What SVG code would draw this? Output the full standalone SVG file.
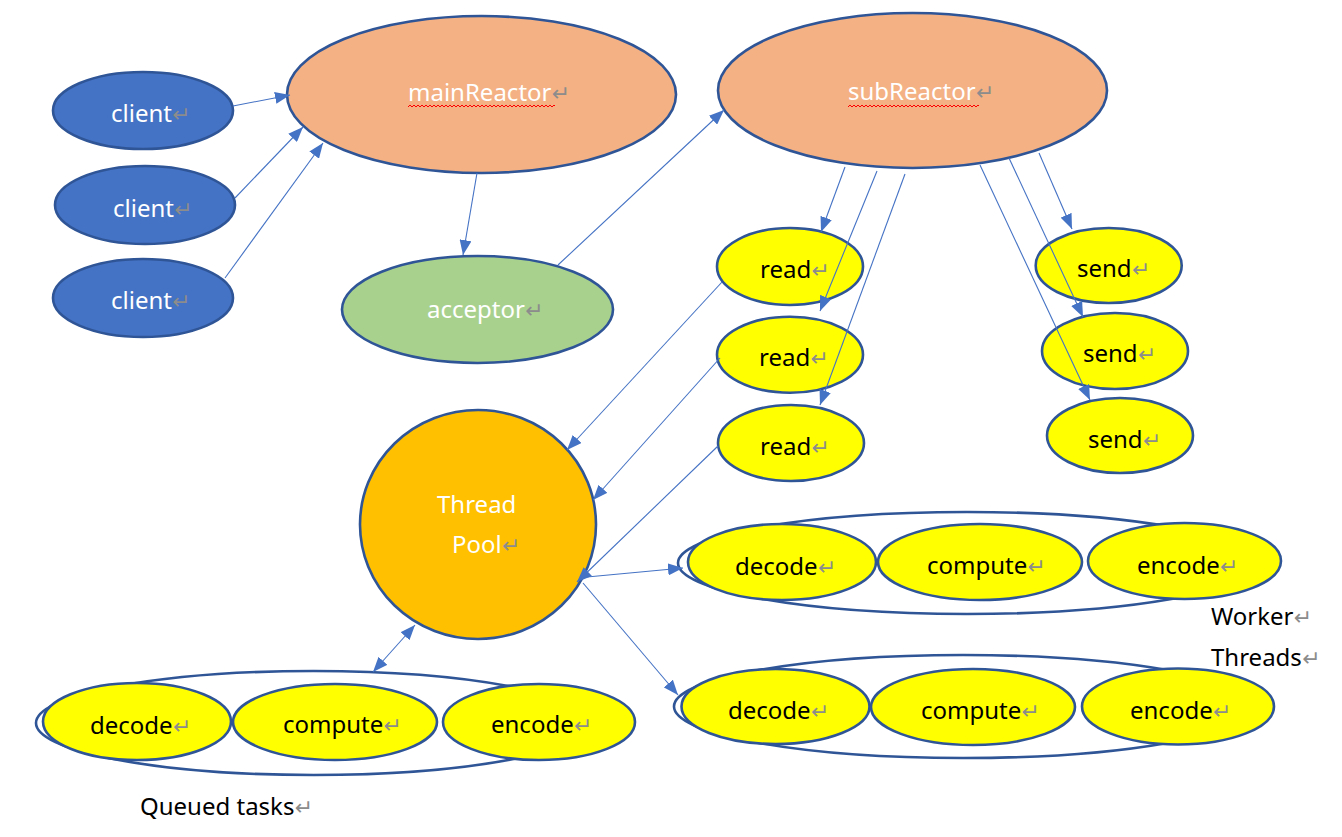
<svg xmlns="http://www.w3.org/2000/svg" width="1342" height="837" viewBox="0 0 1342 837">
<defs>
<style>
.n{stroke:#2F5597;stroke-width:2.6}
.blue{fill:#4472C4}
.orange{fill:#F4B183}
.green{fill:#A9D18E}
.gold{fill:#FFC000}
.yel{fill:#FFFF00}
.ring{fill:none}
text{font-family:"Noto Sans","Liberation Sans",sans-serif;font-size:24px}
.w{fill:#FFFFFF}
.k{fill:#000000}
.rt{font-family:"DejaVu Sans",sans-serif;font-size:22px;fill:#8C8C8C}
.c line{stroke:#4472C4;stroke-width:1.1;fill:none}
.a{marker-end:url(#ah)}
.d{marker-end:url(#ah);marker-start:url(#ah)}
</style>
<marker id="ah" markerUnits="userSpaceOnUse" markerWidth="16" markerHeight="12" viewBox="0 0 16 12" refX="15" refY="6" orient="auto-start-reverse">
<path d="M0,0 L15,6 L0,12 z" fill="#4472C4"/>
</marker>
<pattern id="wave" width="4" height="4" patternUnits="userSpaceOnUse">
<path d="M0,3 L2,1 L4,3" stroke="#FF0000" stroke-width="1" fill="none"/>
</pattern>
</defs>
<rect width="1342" height="837" fill="#FFFFFF"/>

<g id="client1"><ellipse class="n blue" cx="143" cy="110.5" rx="90" ry="38.5"/><text class="w" x="111" y="122">client<tspan class="rt">↵</tspan></text></g>
<g id="client2"><ellipse class="n blue" cx="145" cy="205" rx="90" ry="39"/><text class="w" x="113" y="217">client<tspan class="rt">↵</tspan></text></g>
<g id="client3"><ellipse class="n blue" cx="143" cy="298" rx="90" ry="39"/><text class="w" x="111" y="309">client<tspan class="rt">↵</tspan></text></g>

<g id="mainReactor"><ellipse class="n orange" cx="481.5" cy="94.5" rx="194.5" ry="78.5"/><text class="w" x="408" y="101">mainReactor<tspan class="rt">↵</tspan></text><rect x="408" y="104" width="147" height="4" fill="url(#wave)"/></g>
<g id="subReactor"><ellipse class="n orange" cx="912.5" cy="90.5" rx="194.5" ry="77.5"/><text class="w" x="848" y="100">subReactor<tspan class="rt">↵</tspan></text><rect x="848" y="103" width="131" height="4" fill="url(#wave)"/></g>

<g id="acceptor"><ellipse class="n green" cx="477.5" cy="309.5" rx="135.5" ry="53.5"/><text class="w" x="427" y="318">acceptor<tspan class="rt">↵</tspan></text></g>

<g id="read1"><ellipse class="n yel" cx="790" cy="266.5" rx="73" ry="38.5"/><text class="k" x="760" y="278">read<tspan class="rt">↵</tspan></text></g>
<g id="read2"><ellipse class="n yel" cx="790" cy="354.7" rx="73" ry="38"/><text class="k" x="759" y="366">read<tspan class="rt">↵</tspan></text></g>
<g id="read3"><ellipse class="n yel" cx="791" cy="443" rx="73" ry="38"/><text class="k" x="760" y="455">read<tspan class="rt">↵</tspan></text></g>

<g id="send1"><ellipse class="n yel" cx="1108.7" cy="265.5" rx="73" ry="37.5"/><text class="k" x="1077" y="277">send<tspan class="rt">↵</tspan></text></g>
<g id="send2"><ellipse class="n yel" cx="1115" cy="351" rx="73" ry="38"/><text class="k" x="1083" y="362">send<tspan class="rt">↵</tspan></text></g>
<g id="send3"><ellipse class="n yel" cx="1120" cy="435.5" rx="73" ry="37.5"/><text class="k" x="1088" y="448">send<tspan class="rt">↵</tspan></text></g>

<g id="threadPool"><ellipse class="n gold" cx="478" cy="524.5" rx="118" ry="114.5"/><text class="w" x="437" y="513">Thread</text><text class="w" x="452" y="553">Pool<tspan class="rt">↵</tspan></text></g>

<g id="workerRow1">
<ellipse class="n ring" cx="967" cy="563" rx="289" ry="51"/>
<ellipse class="n yel" cx="782" cy="562" rx="94" ry="38"/>
<ellipse class="n yel" cx="980" cy="562" rx="102" ry="38"/>
<ellipse class="n yel" cx="1184.5" cy="561" rx="96.5" ry="38"/>
<text class="k" x="735" y="575">decode<tspan class="rt">↵</tspan></text>
<text class="k" x="927" y="574">compute<tspan class="rt">↵</tspan></text>
<text class="k" x="1137" y="574">encode<tspan class="rt">↵</tspan></text>
</g>

<g id="workerRow2">
<ellipse class="n ring" cx="963" cy="706.5" rx="289" ry="51.5"/>
<ellipse class="n yel" cx="775.5" cy="706.5" rx="94" ry="37.5"/>
<ellipse class="n yel" cx="973" cy="707" rx="102" ry="38"/>
<ellipse class="n yel" cx="1178" cy="706.5" rx="96" ry="38"/>
<text class="k" x="728" y="719">decode<tspan class="rt">↵</tspan></text>
<text class="k" x="921" y="719">compute<tspan class="rt">↵</tspan></text>
<text class="k" x="1130" y="719">encode<tspan class="rt">↵</tspan></text>
</g>

<g id="queuedTasks">
<ellipse class="n ring" cx="313.5" cy="723" rx="277.5" ry="52"/>
<ellipse class="n yel" cx="137" cy="721.5" rx="94" ry="38.5"/>
<ellipse class="n yel" cx="335" cy="722" rx="102" ry="38"/>
<ellipse class="n yel" cx="539" cy="722" rx="96" ry="38"/>
<text class="k" x="90" y="734">decode<tspan class="rt">↵</tspan></text>
<text class="k" x="283" y="733">compute<tspan class="rt">↵</tspan></text>
<text class="k" x="491" y="733">encode<tspan class="rt">↵</tspan></text>
</g>

<g id="labels">
<text class="k" x="1211" y="625">Worker<tspan class="rt">↵</tspan></text>
<text class="k" x="1211" y="666">Threads<tspan class="rt">↵</tspan></text>
<text class="k" x="140" y="815">Queued tasks<tspan class="rt">↵</tspan></text>
</g>

<g id="connectors" class="c">
<line class="a" x1="233" y1="106" x2="290" y2="95"/>
<line class="a" x1="235" y1="198" x2="303" y2="127"/>
<line class="a" x1="225" y1="278" x2="323" y2="143"/>
<line class="a" x1="477" y1="173" x2="463" y2="255"/>
<line class="a" x1="558" y1="265" x2="724" y2="110"/>
<line class="a" x1="845" y1="167" x2="821" y2="232"/>
<line class="a" x1="877" y1="171" x2="820" y2="311"/>
<line class="a" x1="905" y1="174" x2="820" y2="405"/>
<line class="a" x1="1039" y1="153" x2="1072" y2="229"/>
<line class="a" x1="1009" y1="158" x2="1083" y2="317"/>
<line class="a" x1="980" y1="165" x2="1090" y2="400"/>
<line class="a" x1="722" y1="282" x2="567" y2="450"/>
<line class="a" x1="720" y1="358" x2="593" y2="500"/>
<line class="a" x1="718" y1="446" x2="577" y2="582"/>
<line class="a" x1="587" y1="577" x2="683" y2="568"/>
<line class="a" x1="583" y1="583" x2="678" y2="695"/>
<line class="d" x1="373" y1="672" x2="415" y2="625"/>
</g>
</svg>
